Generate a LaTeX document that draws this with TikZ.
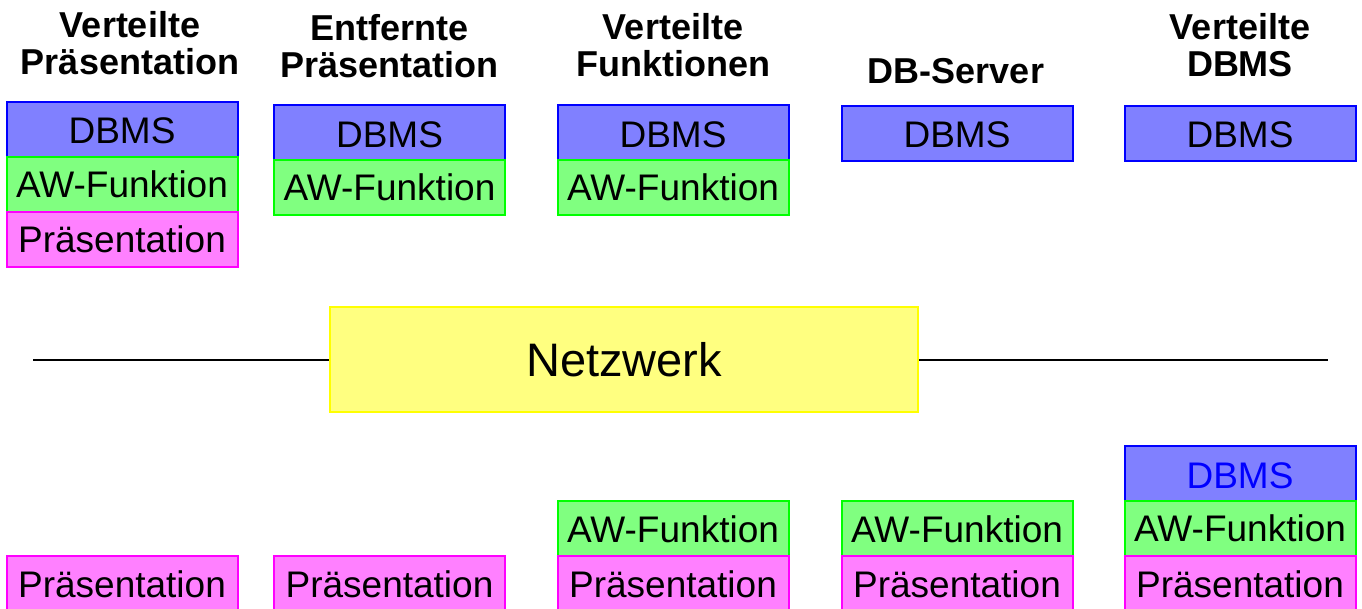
\documentclass[tikz,border=0pt]{standalone}
\usepackage{fontspec}
\setmainfont{Liberation Sans}
\definecolor{dbfill}{HTML}{8080FF}
\definecolor{dbline}{HTML}{0000FF}
\definecolor{awfill}{HTML}{80FF80}
\definecolor{awline}{HTML}{00FF00}
\definecolor{prfill}{HTML}{FF80FF}
\definecolor{prline}{HTML}{FF00FF}
\definecolor{nwfill}{HTML}{FFFF80}
\definecolor{nwline}{HTML}{FFFF00}
\begin{document}
\begin{tikzpicture}[x=0.5pt,y=-0.5pt,
  layer/.style={draw, line width=1pt, inner sep=0pt, minimum width=115.5pt, minimum height=27.5pt,
    font=\fontsize{18.5}{20}\selectfont, text height=13.5pt, text depth=0pt},
  dbms/.style={layer, fill=dbfill, draw=dbline, text height=14.5pt},
  awf/.style={layer, fill=awfill, draw=awline},
  pres/.style={layer, fill=prfill, draw=prline},
  title/.style={font=\fontsize{18}{18.5}\selectfont\bfseries, inner sep=0pt, anchor=base},
  net/.style={draw=nwline, fill=nwfill, line width=1pt, inner sep=0pt, minimum width=294pt, minimum height=52.5pt,
    font=\fontsize{23.5}{25}\selectfont, text height=17pt, text depth=0pt},
  wire/.style={line width=1.2pt, black}]
\useasboundingbox (0,0) rectangle (1362,609);
% titles
\node[title] (t1a) at (130,38) {Verteilte};
\node[title] (t1b) at (130,75) {Präsentation};
\node[title] (t2a) at (389.5,41) {Entfernte};
\node[title] (t2b) at (389.5,78) {Präsentation};
\node[title] (t3a) at (673,40) {Verteilte};
\node[title] (t3b) at (673,77) {Funktionen};
\node[title] (t4a) at (956,84) {DB-Server};
\node[title] (t5a) at (1240,40) {Verteilte};
\node[title] (t5b) at (1240,77) {DBMS};
% top stacks
\node[dbms] (d1) at (122,129.5) {DBMS};
\node[awf]  (a1) at (122,184.5) {AW-Funktion};
\node[pres] (p1) at (122,239.5) {Präsentation};
\node[dbms] (d2) at (389.5,133) {DBMS};
\node[awf]  (a2) at (389.5,187.5) {AW-Funktion};
\node[dbms] (d3) at (673,133) {DBMS};
\node[awf]  (a3) at (673,187.5) {AW-Funktion};
\node[dbms] (d4) at (957,133.5) {DBMS};
\node[dbms] (d5) at (1240,133.5) {DBMS};
% network
\node[net] (nw) at (624,359.5) {Netzwerk};
\coordinate (wl) at (33,360);
\coordinate (wr) at (1328,360);
\draw[wire] (wl) -- (nw.west |- wl);
\draw[wire] (nw.east |- wr) -- (wr);
% bottom stacks
\node[pres] (bp1) at (122,583.5) {Präsentation};
\node[pres] (bp2) at (389.5,583.5) {Präsentation};
\node[awf]  (ba3) at (673,529) {AW-Funktion};
\node[pres] (bp3) at (673,583.5) {Präsentation};
\node[awf]  (ba4) at (957,529) {AW-Funktion};
\node[pres] (bp4) at (957,583.5) {Präsentation};
\node[dbms, text=dbline] (bd5) at (1240,474) {DBMS};
\node[awf]  (ba5) at (1240,528.5) {AW-Funktion};
\node[pres] (bp5) at (1240,583.5) {Präsentation};
\end{tikzpicture}
\end{document}
